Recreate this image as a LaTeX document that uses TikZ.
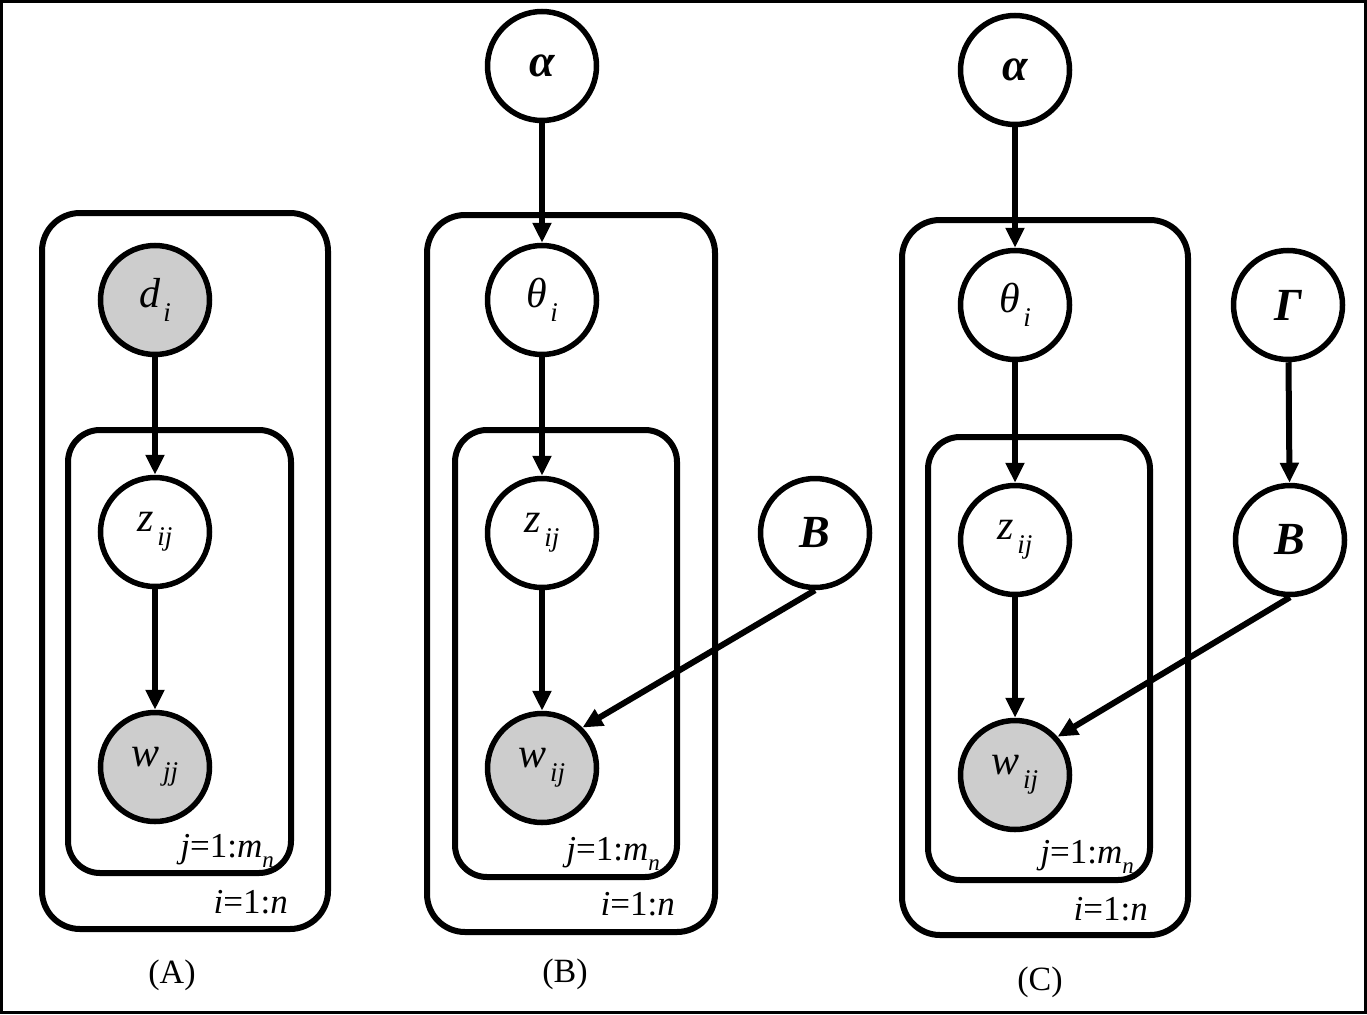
\documentclass[tikz,border=0pt]{standalone}
\usepackage{fontspec}
\setmainfont{Liberation Serif}
\usetikzlibrary{arrows.meta}
\definecolor{obsgray}{RGB}{205,205,205}
\newcommand\sbs[1]{\kern0.08em\raisebox{-0.34em}{\fontsize{27}{27}\selectfont\textit{#1}}}
\newcommand\psub[1]{\raisebox{-0.3em}{\fontsize{23}{23}\selectfont\textit{#1}}}
\begin{document}
\begin{tikzpicture}[x=1pt,y=-1pt,
  var/.style={circle, draw, line width=5.5pt, minimum size=109pt, inner sep=0pt,
    font=\fontsize{42}{42}\selectfont, fill=white},
  obs/.style={var, fill=obsgray},
  plate/.style={draw, line width=6pt, rounded corners=38pt},
  iplate/.style={draw, line width=6pt, rounded corners=32pt},
  edge/.style={line width=6pt, -{Triangle[length=20pt,width=18pt]}},
  bigsym/.style={font=\fontsize{46}{46}\selectfont\bfseries\itshape},
  platelbl/.style={anchor=base east, inner sep=0pt, font=\fontsize{35}{35}\selectfont},
  caption/.style={font=\fontsize{34}{34}\selectfont, inner sep=0pt}]
\useasboundingbox (0,0) rectangle (1367,1014);
\draw[line width=3pt] (1.5,1.5) rectangle (1365.5,1012.5);

% ---------- Panel A ----------
\draw[plate] (42,213) rectangle (328,929);
\draw[iplate] (68,430) rectangle (291,873);
\node[obs] (dA) at (155,300) {\textit{d}\sbs{i}};
\node[var] (zA) at (155,532) {\textit{z}\sbs{ij}};
\node[obs] (wA) at (155,767) {\textit{w}\sbs{jj}};
\draw[edge] (dA) -- (zA);
\draw[edge] (zA) -- (wA);
\node[platelbl] (jA) at (274,857) {\textit{j}=1:\textit{m}\psub{n}};
\node[platelbl] (iA) at (288,913) {\textit{i}=1:\textit{n}};
\node[caption] (capA) at (172,975) {(A)};

% ---------- Panel B ----------
\draw[plate] (427,215) rectangle (715,932);
\draw[iplate] (455,430) rectangle (677,877);
\node[var, bigsym] (alB) at (542,66) {α};
\node[var] (thB) at (542,300) {\textit{θ}\sbs{i}};
\node[var] (zB) at (542,533) {\textit{z}\sbs{ij}};
\node[obs] (wB) at (542,768) {\textit{w}\sbs{ij}};
\node[var, bigsym] (BB) at (815,533) {B};
\draw[edge] (alB) -- (thB);
\draw[edge] (thB) -- (zB);
\draw[edge] (zB) -- (wB);
\draw[edge] (BB.south) -- (wB.45);
\node[platelbl] (jB) at (660,860) {\textit{j}=1:\textit{m}\psub{n}};
\node[platelbl] (iB) at (675,915) {\textit{i}=1:\textit{n}};
\node[caption] (capB) at (565,974) {(B)};

% ---------- Panel C ----------
\draw[plate] (902,220) rectangle (1188,935);
\draw[iplate] (928,437) rectangle (1150,880);
\node[var, bigsym] (alC) at (1015,70) {α};
\node[var] (thC) at (1015,305) {\textit{θ}\sbs{i}};
\node[var] (zC) at (1015,540) {\textit{z}\sbs{ij}};
\node[obs] (wC) at (1015,775) {\textit{w}\sbs{ij}};
\node[var, bigsym] (GC) at (1288,305) {Γ};
\node[var, bigsym] (BC) at (1290,540) {B};
\draw[edge] (alC) -- (thC);
\draw[edge] (thC) -- (zC);
\draw[edge] (zC) -- (wC);
\draw[edge] (GC) -- (BC);
\draw[edge] (BC.south) -- (wC.42);
\node[platelbl] (jC) at (1134,863) {\textit{j}=1:\textit{m}\psub{n}};
\node[platelbl] (iC) at (1148,920) {\textit{i}=1:\textit{n}};
\node[caption] (capC) at (1040,982) {(C)};
\end{tikzpicture}
\end{document}
